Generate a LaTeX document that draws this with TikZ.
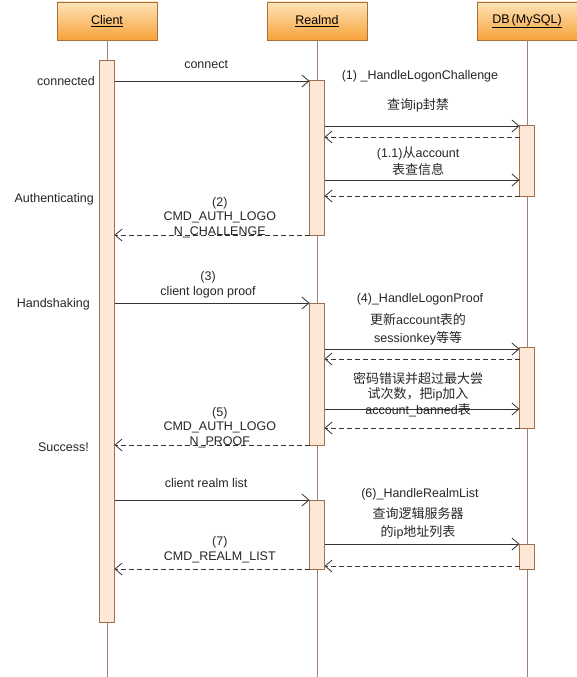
\documentclass[tikz,border=0pt]{standalone}
\usepackage{fontspec}
\setmainfont{Liberation Sans}
\newfontfamily\cjk{Noto Sans CJK SC}
\usetikzlibrary{arrows.meta}
\usetikzlibrary{positioning}

\newcommand{\zh}[1]{{\cjk\fontsize{13}{17}\selectfont #1}}

\definecolor{boxtop}{HTML}{FDE3B8}
\definecolor{boxbot}{HTML}{F8A33A}
\definecolor{boxline}{HTML}{A8703C}
\definecolor{barfill}{HTML}{FDE8D8}
\definecolor{barline}{HTML}{A07050}
\definecolor{lifecol}{HTML}{A08070}

\tikzset{
  actor/.style={draw=boxline, top color=boxtop, bottom color=boxbot, minimum width=100pt, minimum height=38pt, inner sep=0pt, outer sep=0pt, font=\fontsize{12.5}{14}\selectfont},
  activebar/.style={draw=barline, fill=barfill, line width=0.8pt, minimum width=15pt, inner sep=0pt, outer sep=0pt, anchor=north},
  life/.style={draw=lifecol, line width=0.9pt},
  msg/.style={-{Straight Barb[length=7pt,width=12pt]}, line width=0.8pt, draw=black!80},
  reply/.style={msg, dash pattern=on 5pt off 3pt},
  lbl/.style={font=\fontsize{12.5}{14.5}\selectfont, text=black!85, align=center, inner sep=0pt},
  zhlbl/.style={lbl, font=\fontsize{12.5}{17.5}\selectfont}
}

\begin{document}
\begin{tikzpicture}[x=1pt, y=-1pt]
    \useasboundingbox (0,0) rectangle (576,677);

    \node (client) [actor] at (107,21) {\underline{Client}};
    \node (realmd) [actor, right = 110pt of client] {\underline{Realmd}};
    \node (db) [actor, right = 110pt of realmd] {\underline{DB\,(MySQL)}};

    \draw [life] (client.south) -- (client.south |- 0,677);
    \draw [life] (realmd.south) -- (realmd.south |- 0,677);
    \draw [life] (db.south) -- (db.south |- 0,677);

    \node (cbar) [activebar, minimum height=562pt] at (107,60) {};
    \node (rb1) [activebar, minimum height=155pt] at (317,80) {};
    \node (db1) [activebar, minimum height=71pt] at (527,125) {};
    \node (rb2) [activebar, minimum height=142pt] at (317,303) {};
    \node (db2) [activebar, minimum height=81pt] at (527,347) {};
    \node (rb3) [activebar, minimum height=69pt] at (317,500) {};
    \node (db3) [activebar, minimum height=25pt] at (527,544) {};

    % states of the client
    \node (sconn) [lbl, anchor=east] at (95,81) {connected};
    \node (sauth) [lbl, anchor=east] at (94,199) {Authenticating};
    \node (shand) [lbl, anchor=east] at (90,304) {Handshaking};
    \node (ssucc) [lbl, anchor=east] at (89,447) {Success!};

    % logon challenge
    \draw [msg] (cbar.east |- 0,81) -- node [lbl, pos=0.47, above=12pt] {connect} (rb1.west |- 0,81);
    \node (h1) [lbl] at (420,76) {(1) \_HandleLogonChallenge};
    \draw [msg] (rb1.east |- 0,126) -- node [zhlbl, pos=0.48, above=14pt] {\zh{查询}ip\zh{封禁}} (db1.west |- 0,126);
    \draw [reply] (db1.west |- 0,137) -- (rb1.east |- 0,137);
    \draw [msg] (rb1.east |- 0,180) -- node [zhlbl, pos=0.48, above=4pt] {(1.1)\zh{从}account\\\zh{表查信息}} (db1.west |- 0,180);
    \draw [reply] (db1.west |- 0,196) -- (rb1.east |- 0,196);
    \draw [reply] (rb1.west |- 0,235) -- node [lbl, pos=0.46, above=-3pt] {(2)\\CMD\_AUTH\_LOGO\\N\_CHALLENGE} (cbar.east |- 0,235);

    % logon proof
    \draw [msg] (cbar.east |- 0,303) -- node [lbl, pos=0.48, above=5pt] {(3)\\client logon proof} (rb2.west |- 0,303);
    \node (h4) [lbl] at (420,299) {(4)\_HandleLogonProof};
    \draw [msg] (rb2.east |- 0,349) -- node [zhlbl, pos=0.48, above=4pt] {\zh{更新}account\zh{表的}\\sessionkey\zh{等等}} (db2.west |- 0,349);
    \draw [reply] (db2.west |- 0,359) -- (rb2.east |- 0,359);
    \draw [msg] (rb2.east |- 0,409) -- node [lbl, font=\fontsize{12.5}{15.5}\selectfont, pos=0.48, above=-8pt] {\zh{密码错误并超过最大尝}\\\zh{试次数，把}ip\zh{加入}\\account\_banned\zh{表}} (db2.west |- 0,409);
    \draw [reply] (db2.west |- 0,428) -- (rb2.east |- 0,428);
    \draw [reply] (rb2.west |- 0,445) -- node [lbl, pos=0.46, above=-3pt] {(5)\\CMD\_AUTH\_LOGO\\N\_PROOF} (cbar.east |- 0,445);

    % realm list
    \draw [msg] (cbar.east |- 0,500) -- node [lbl, pos=0.47, above=12pt] {client realm list} (rb3.west |- 0,500);
    \node (h6) [lbl] at (420,494) {(6)\_HandleRealmList};
    \draw [msg] (rb3.east |- 0,544) -- node [zhlbl, pos=0.48, above=5pt] {\zh{查询逻辑服务器}\\\zh{的}ip\zh{地址列表}} (db3.west |- 0,544);
    \draw [reply] (db3.west |- 0,566) -- (rb3.east |- 0,566);
    \draw [reply] (rb3.west |- 0,569) -- node [lbl, pos=0.46, above=6pt] {(7)\\CMD\_REALM\_LIST} (cbar.east |- 0,569);
\end{tikzpicture}
\end{document}
